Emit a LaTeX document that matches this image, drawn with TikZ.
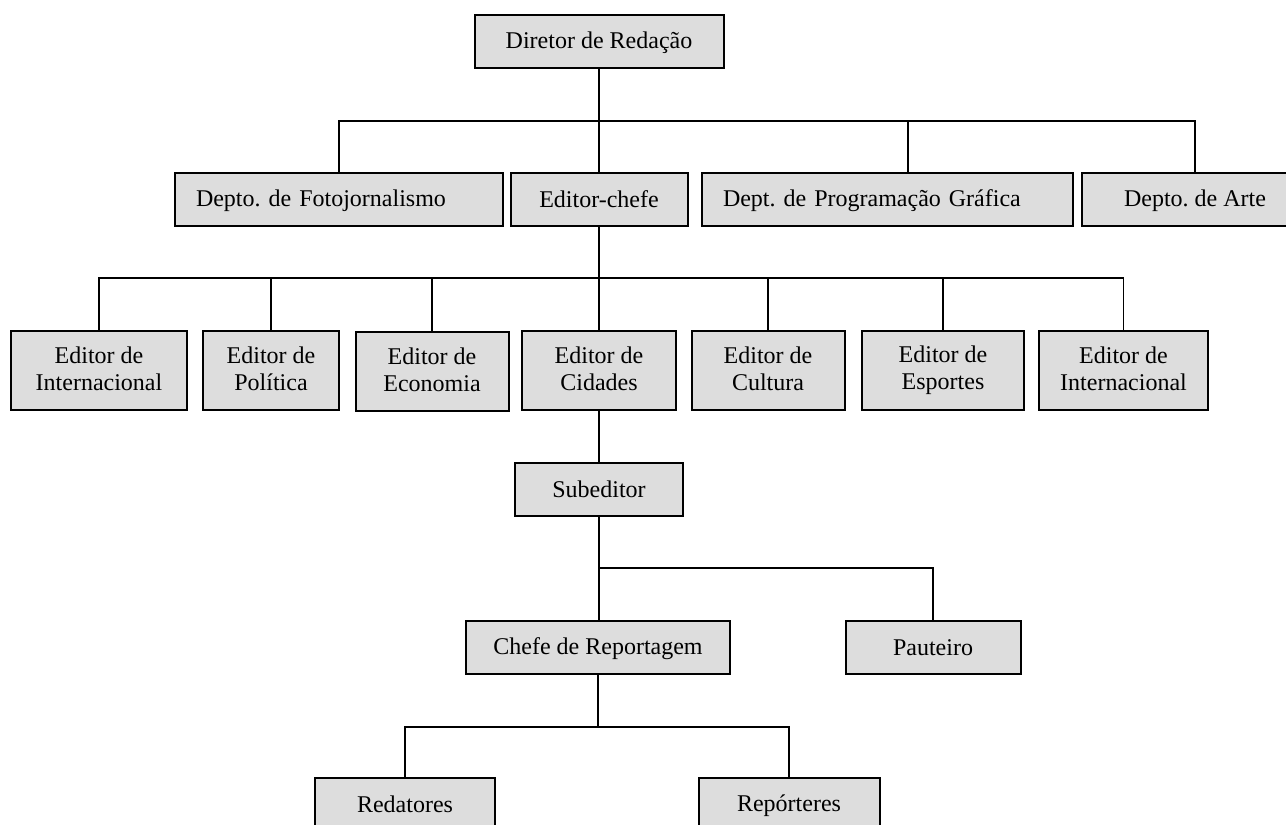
\documentclass[tikz,border=0pt]{standalone}
\usepackage{fontspec}
\setmainfont{Liberation Serif}
\usetikzlibrary{positioning}
\definecolor{boxgray}{RGB}{221,221,221}
\frenchspacing
\newcommand\boxstrut{\rule[-3pt]{0pt}{18pt}}

\begin{document}
\begin{tikzpicture}[x=0.75pt,y=-0.75pt,
  box/.style={draw,fill=boxgray,line width=1.5pt,inner sep=0pt,align=center,
    minimum height=39.75pt,font=\fontsize{18}{20.5}\selectfont,
    execute at begin node=\boxstrut,execute at end node=\boxstrut},
  tallbox/.style={box,minimum height=59.25pt},
  leftbox/.style={box,align=left,inner xsep=15.75pt},
  link/.style={line width=1.2pt}]
\clip (0,0) rectangle (1286,825);
% levels of the buses
\coordinate (lvl1) at (0,121);
\coordinate (lvl2) at (0,278);
\coordinate (lvl3) at (0,568);
\coordinate (lvl4) at (0,727);
\coordinate (progtap) at (908,121);
% top
\node[box,minimum width=186.75pt] (dir) at (599,41.5) {Diretor de Redação};
% departments
\node[leftbox,text width=214.5pt] (foto) at (339,199.5) {\mbox{Depto. de Fotojornalismo}};
\node[box,minimum width=132.75pt] (chefe) at (599,199.5) {Editor-chefe};
\node[leftbox,text width=246.75pt] (prog) at (887.5,199.5) {\mbox{Dept. de Programação Gráfica}};
\node[box,minimum width=169.5pt] (arte) at (1195,199.5) {Depto. de Arte};
% editors
\node[tallbox,minimum width=132pt] (int1) at (99,370.5) {Editor de\\Internacional};
\node[tallbox,minimum width=102pt] (pol) at (271,370.5) {Editor de\\Política};
\node[tallbox,minimum width=114.75pt] (eco) at (432,371.5) {Editor de\\Economia};
\node[tallbox,minimum width=115.5pt] (cid) at (599,370.5) {Editor de\\Cidades};
\node[tallbox,minimum width=114.75pt] (cul) at (768,370.5) {Editor de\\Cultura};
\node[tallbox,minimum width=121.5pt] (esp) at (943,370.5) {Editor de\\Esportes};
\node[tallbox,minimum width=126.75pt] (int2) at (1123.5,370.5) {Editor de\\Internacional};
% below cidades
\node[box,minimum width=126pt] (sub) at (599,489) {Subeditor};
\node[box,minimum width=198pt] (rep) at (598,647) {Chefe de Reportagem};
\node[box,minimum width=131.25pt] (paut) at (933,647) {Pauteiro};
\node[box,minimum width=135pt] (red) at (405,804.5) {Redatores};
\node[box,minimum width=135.75pt] (repo) at (789,804.5) {Repórteres};
% connectors
\draw[link] (dir.south) -- (dir.south |- chefe.north);
\draw[link] (foto.north) |- (arte.north |- lvl1) -- (arte.north);
\draw[link] (progtap) -- (progtap |- prog.north);
\draw[link] (chefe.south) -- (chefe.south |- cid.north);
\draw[link] (int1.north) |- (int2.north |- lvl2) -- (int2.north);
\foreach \n in {pol,eco,cul,esp}
  \draw[link] (\n.north) -- (\n.north |- lvl2);
\draw[link] (cid.south) -- (cid.south |- sub.north);
\draw[link] (sub.south) -- (sub.south |- rep.north);
\draw[link] (sub.south |- lvl3) -| (paut.north);
\draw[link] (rep.south) -- (rep.south |- lvl4);
\draw[link] (red.north) |- (repo.north |- lvl4) -- (repo.north);
\end{tikzpicture}
\end{document}
